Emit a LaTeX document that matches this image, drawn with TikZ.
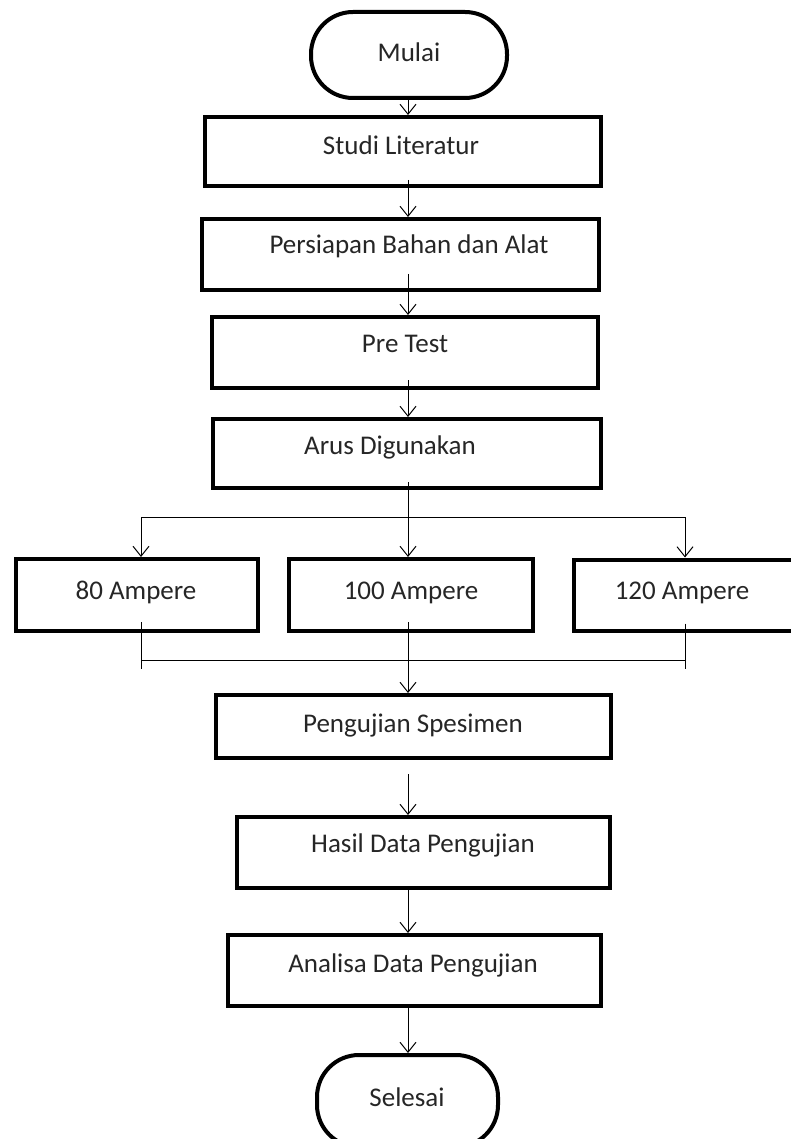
\documentclass[tikz,border=0pt]{standalone}
\usepackage{fontspec}
\setmainfont{Carlito}
\usetikzlibrary{arrows.meta}
\begin{document}
\begin{tikzpicture}[x=1pt,y=-1pt,
  box/.style={draw=black, line width=4pt, rectangle, inner sep=0pt},
  term/.style={draw=black, line width=4pt, rectangle, rounded corners=42pt, inner sep=0pt},
  lbl/.style={anchor=base, inner sep=0pt, text=black!85, font=\fontsize{27}{32}\selectfont},
  conn/.style={draw=black, line width=1pt},
  arr/.style={conn, -{Straight Barb[length=10pt,width=16pt,line width=1pt]}}
]
\useasboundingbox (0,0) rectangle (790,1139);
\coordinate (cx) at (408,0);
% shapes
\node[term, minimum width=196pt, minimum height=86pt] (m) at (409,55) {};
\node[box, minimum width=396pt, minimum height=69pt] (s) at (403,151.5) {};
\node[box, minimum width=397pt, minimum height=71pt] (p) at (400.5,254.5) {};
\node[box, minimum width=386pt, minimum height=71pt] (t) at (405,352.5) {};
\node[box, minimum width=388pt, minimum height=69pt] (a) at (407,453.5) {};
\node[box, minimum width=242pt, minimum height=72pt] (b80) at (137,595) {};
\node[box, minimum width=244pt, minimum height=72pt] (b100) at (411,595) {};
\node[box, minimum width=228pt, minimum height=71pt] (b120) at (688,595) {};
\node[box, minimum width=395pt, minimum height=63pt] (u) at (413.5,726.5) {};
\node[box, minimum width=373pt, minimum height=71pt] (h) at (423.5,852.5) {};
\node[box, minimum width=373pt, minimum height=71pt] (an) at (414.5,970.5) {};
\node[term, minimum width=181pt, minimum height=92pt] (se) at (407.5,1101) {};
% texts
\node[lbl] (mt) at (409,62) {Mulai};
\node[lbl] (st) at (401,155) {Studi Literatur};
\node[lbl] (pt) at (409,254) {Persiapan Bahan dan Alat};
\node[lbl] (tt) at (405,352) {Pre Test};
\node[lbl] (at) at (390,454) {Arus Digunakan};
\node[lbl] (b80t) at (136,599) {80 Ampere};
\node[lbl] (b100t) at (411,599) {100 Ampere};
\node[lbl] (b120t) at (682,599) {120 Ampere};
\node[lbl] (ut) at (413,732) {Pengujian Spesimen};
\node[lbl] (ht) at (423,852) {Hasil Data Pengujian};
\node[lbl] (ant) at (413,972) {Analisa Data Pengujian};
\node[lbl] (set) at (407,1106) {Selesai};
% connectors
\draw[arr] (m.south -| cx) -- (s.north -| cx);
\draw[arr] ([yshift=8pt]s.south -| cx) -- (p.north -| cx);
\draw[arr] ([yshift=18pt]p.south -| cx) -- (t.north -| cx);
\draw[arr] ([yshift=10pt]t.south -| cx) -- (a.north -| cx);
% branch
\coordinate (jL) at (141,517);
\coordinate (jR) at (685,517);
\draw[arr] ([yshift=8pt]a.south -| cx) -- (b100.north -| cx);
\draw[conn] (jL) -- (jR);
\draw[arr] (jL) -- (jL |- b80.north);
\draw[arr] (jR) -- (jR |- b120.north);
% merge
\coordinate (kL) at (141,669);
\coordinate (kR) at (685,669);
\coordinate (mL) at (141,660);
\coordinate (mR) at (685,660);
\draw[conn] ([yshift=11pt]b80.south -| kL) -- (kL);
\draw[conn] ([yshift=9pt]b120.south -| kR) -- (kR);
\draw[conn] (mL) -- (mR);
\draw[arr] ([yshift=11pt]b100.south -| cx) -- (u.north -| cx);
\draw[arr] ([yshift=-14pt]u.south -| cx) -- (h.north -| cx);
\draw[arr] (h.south -| cx) -- (an.north -| cx);
\draw[arr] ([yshift=4pt]an.south -| cx) -- (se.north -| cx);
\end{tikzpicture}
\end{document}
